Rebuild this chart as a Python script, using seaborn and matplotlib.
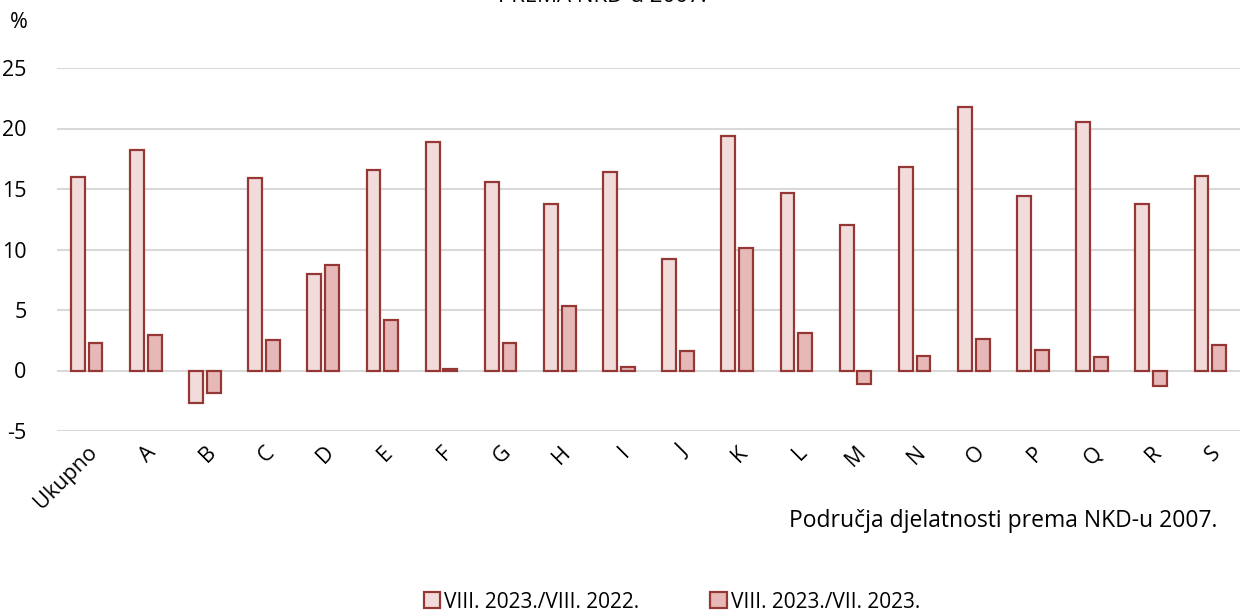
import matplotlib
matplotlib.use("Agg")
import matplotlib.pyplot as plt
import seaborn as sns
import pandas as pd
from matplotlib.patches import Patch

categories = ["Ukupno", "A", "B", "C", "D", "E", "F", "G", "H", "I", "J",
              "K", "L", "M", "N", "O", "P", "Q", "R", "S"]
series_names = ["VIII. 2023./VIII. 2022.", "VIII. 2023./VII. 2023."]
yoy = [16.0, 18.2, -2.7, 15.9, 8.0, 16.6, 18.9, 15.6, 13.8, 16.4, 9.2,
       19.4, 14.7, 12.0, 16.8, 21.8, 14.4, 20.5, 13.8, 16.1]
mom = [2.3, 2.9, -1.9, 2.5, 8.7, 4.2, 0.1, 2.3, 5.3, 0.3, 1.6,
       10.1, 3.1, -1.1, 1.2, 2.6, 1.7, 1.1, -1.3, 2.1]
y_ticks = [-5, 0, 5, 10, 15, 20, 25]

df = pd.DataFrame({
    "cat": categories * 2,
    "series": [series_names[0]] * len(categories) + [series_names[1]] * len(categories),
    "value": yoy + mom,
})

sns.set_theme(style="white")
plt.rcParams["font.family"] = ["Open Sans", "DejaVu Sans"]
plt.rcParams["text.color"] = "#000000"

fills = ["#f2dcdb", "#e6b9b8"]
edge = "#953735"

fig = plt.figure(figsize=(12.4, 6.12), dpi=100)
ax = fig.add_axes([57 / 1240, (612 - 431) / 612, 1 - 57 / 1240, (431 - 68) / 612])

sns.barplot(data=df, x="cat", y="value", hue="series", order=categories,
            hue_order=series_names, palette=fills, saturation=1, width=0.6, gap=0.22,
            edgecolor=edge, linewidth=1.6, ax=ax, legend=False, zorder=3)

ax.set_xlim(-0.5, len(categories) - 0.5)
ax.set_ylim(-5, 25)
ax.set_yticks(y_ticks)
ax.set_yticklabels([str(t) for t in y_ticks], fontsize=15.5, color="#000000")
ax.yaxis.grid(True, color="#d9d9d9", linewidth=1.5, zorder=0)
ax.xaxis.grid(False)
for s in ax.spines.values():
    s.set_visible(False)
ax.tick_params(axis="y", length=0, pad=22)
ax.tick_params(axis="x", length=0, pad=8)
ax.set_xticks(range(len(categories)))
ax.set_xticklabels(categories, rotation=45, ha="right", rotation_mode="anchor",
                   fontsize=15.5, color="#000000")
ax.set_xlabel("")
ax.set_ylabel("")

fig.text(10 / 1240, 1 - 22 / 612, "%", fontsize=15.5, ha="left", va="center")
fig.text(1217 / 1240, 1 - 521 / 612, "Područja djelatnosti prema NKD-u 2007.",
         fontsize=16.5, ha="right", va="center")
fig.text(602 / 1240, 1 + 4 / 612, "PREMA NKD-u 2007.", fontsize=16,
         ha="center", va="center")

handles = [Patch(facecolor=fills[i], edgecolor=edge, linewidth=1.6,
                 label=series_names[i]) for i in range(2)]
fig.legend(handles=handles, loc="center", bbox_to_anchor=(672 / 1240, 1 - 602 / 612),
           ncol=2, frameon=False, fontsize=15, handlelength=0.8, handleheight=0.8,
           handletextpad=0.2, columnspacing=3.4)

fig.savefig("out.png", dpi=100)
